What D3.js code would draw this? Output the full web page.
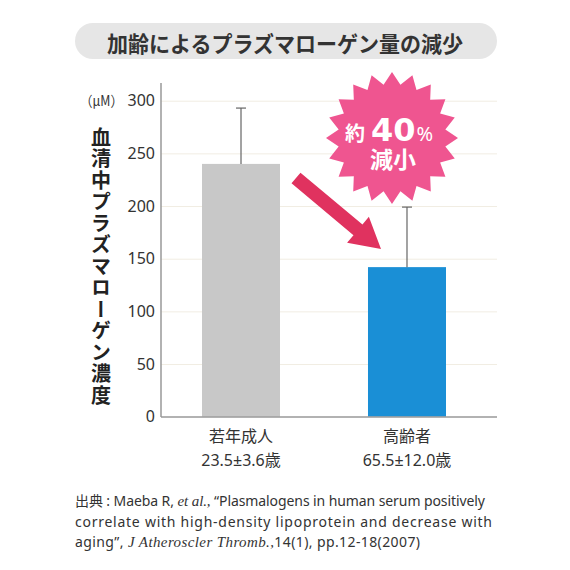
<!DOCTYPE html>
<html>
<head>
<meta charset="utf-8">
<script src="https://cdn.jsdelivr.net/npm/d3@7"></script>
<style>
  html, body { margin: 0; padding: 0; background: #fff; }
  svg { display: block; font-family: "Noto Sans", "Noto Sans CJK JP", sans-serif; }
</style>
</head>
<body>
<svg id="chart" width="570" height="570"></svg>
<script>
// data
const categories = ["若年成人", "高齢者"];
const ageLabels = ["23.5±3.6歳", "65.5±12.0歳"];
const means = [240, 142];
const errors = [53, 57];
const yTicks = [0, 50, 100, 150, 200, 250, 300];
const barColors = ["#c8c8c8", "#1a8fd6"];

const svg = d3.select("#chart");
const cjk = "'Noto Sans CJK JP', sans-serif";

// layout
const plot = { left: 161, right: 497, top: 83, bottom: 417 };

const x = d3.scaleBand()
    .domain(categories)
    .range([plot.left, 487])
    .paddingInner(0.53)
    .paddingOuter(0.247);

const y = d3.scaleLinear()
    .domain([0, 300])
    .range([416.7, 100.7]);

// title pill
svg.append("rect")
    .attr("x", 75).attr("y", 23)
    .attr("width", 422).attr("height", 36)
    .attr("rx", 18)
    .attr("fill", "#e6e6e6");

svg.append("text")
    .attr("x", 107).attr("y", 41.5)
    .attr("dominant-baseline", "central")
    .attr("font-family", cjk)
    .attr("font-size", 22)
    .attr("font-weight", "bold")
    .attr("fill", "#333")
    .attr("textLength", 356)
    .attr("lengthAdjust", "spacingAndGlyphs")
    .text("加齢によるプラズマローゲン量の減少");

// gridlines
svg.append("g")
    .attr("transform", `translate(${plot.left},0)`)
    .call(d3.axisRight(y).tickValues(yTicks.slice(1)).tickSize(plot.right - plot.left).tickFormat(""))
    .call(g => g.select(".domain").remove())
    .call(g => g.selectAll("line").attr("stroke", "#f1ede3").attr("stroke-width", 1));

// y tick labels
svg.append("g")
    .attr("transform", `translate(${plot.left - 6},0)`)
    .call(d3.axisLeft(y).tickValues(yTicks).tickSize(0).tickPadding(0))
    .call(g => g.select(".domain").remove())
    .call(g => g.selectAll("text")
        .attr("font-family", "'Noto Sans', sans-serif")
        .attr("font-size", 16)
        .attr("fill", "#333"));

// bars
svg.append("g").selectAll("rect")
    .data(categories)
    .join("rect")
    .attr("x", d => x(d))
    .attr("y", (d, i) => y(means[i]))
    .attr("width", x.bandwidth())
    .attr("height", (d, i) => y(0) - y(means[i]))
    .attr("fill", (d, i) => barColors[i]);

// error bars
const err = svg.append("g").attr("stroke", "#666").attr("stroke-width", 1.2);
categories.forEach((c, i) => {
    const cx = x(c) + x.bandwidth() / 2;
    err.append("line")
        .attr("x1", cx).attr("x2", cx)
        .attr("y1", y(means[i])).attr("y2", y(means[i] + errors[i]));
    err.append("line")
        .attr("x1", cx - 5).attr("x2", cx + 5)
        .attr("y1", y(means[i] + errors[i])).attr("y2", y(means[i] + errors[i]));
});

// axis lines
svg.append("line")
    .attr("x1", plot.left).attr("x2", plot.left)
    .attr("y1", plot.top).attr("y2", plot.bottom)
    .attr("stroke", "#999").attr("stroke-width", 1.5);
svg.append("line")
    .attr("x1", plot.left).attr("x2", plot.right)
    .attr("y1", plot.bottom).attr("y2", plot.bottom)
    .attr("stroke", "#999").attr("stroke-width", 1.5);

// category labels
const catG = svg.append("g")
    .attr("text-anchor", "middle")
    .attr("font-size", 16)
    .attr("fill", "#333");
categories.forEach((c, i) => {
    const cx = x(c) + x.bandwidth() / 2;
    catG.append("text").attr("x", cx).attr("y", 442).attr("font-family", cjk).text(c);
    catG.append("text").attr("x", cx).attr("y", 466).text(ageLabels[i]);
});

// unit label
svg.append("text")
    .attr("x", 80).attr("y", 106)
    .attr("font-family", cjk)
    .attr("font-size", 14)
    .attr("fill", "#333")
    .attr("textLength", 43)
    .attr("lengthAdjust", "spacingAndGlyphs")
    .text("（μM）");

// vertical axis title
svg.append("text")
    .attr("x", 101).attr("y", 127)
    .attr("font-family", cjk)
    .attr("font-size", 20)
    .attr("font-weight", "bold")
    .attr("fill", "#222")
    .style("writing-mode", "vertical-rl")
    .style("letter-spacing", "1.5px")
    .text("血清中プラズマローゲン濃度");

// arrow
const arrowFrom = [296, 178], arrowTo = [381, 249];
const ang = Math.atan2(arrowTo[1] - arrowFrom[1], arrowTo[0] - arrowFrom[0]);
const len = Math.hypot(arrowTo[0] - arrowFrom[0], arrowTo[1] - arrowFrom[1]);
const headLen = 30, shaftW = 7, headW = 17;
svg.append("path")
    .attr("transform", `translate(${arrowFrom}) rotate(${ang * 180 / Math.PI})`)
    .attr("d", `M0,${-shaftW}L${len - headLen},${-shaftW}L${len - headLen},${-headW}L${len},0L${len - headLen},${headW}L${len - headLen},${shaftW}L0,${shaftW}Z`)
    .attr("fill", "#e0325f");

// starburst
const starC = [392, 138], nPts = 20, rOut = 66, rIn = 54;
const starPts = d3.range(nPts * 2).map(k => [k * Math.PI / nPts, k % 2 ? rIn : rOut]);
svg.append("path")
    .attr("transform", `translate(${starC})`)
    .attr("d", d3.lineRadial().curve(d3.curveLinearClosed)(starPts))
    .attr("fill", "#ef5590");

// badge text: two lines in one text element
const star = svg.append("text")
    .attr("x", 345).attr("y", 141)
    .attr("fill", "#fff")
    .attr("font-weight", "bold");
star.append("tspan").attr("font-size", 20).attr("font-family", cjk).text("約");
star.append("tspan").attr("font-size", 32).attr("font-family", "'DejaVu Sans', sans-serif").attr("dx", 6).text("40");
star.append("tspan").attr("font-size", 20).attr("font-weight", "normal").attr("dx", 1).text("%");
star.append("tspan")
    .attr("x", 370).attr("y", 168)
    .attr("font-size", 23).attr("font-family", cjk)
    .text("減小");

// citation
const cite = svg.append("g").attr("font-size", 14).attr("fill", "#333");
const serif = "'Liberation Serif', serif";
const l1 = cite.append("text").attr("x", 75).attr("y", 506)
    .attr("textLength", 410).attr("lengthAdjust", "spacing");
l1.append("tspan").attr("font-family", cjk).text("出典");
l1.append("tspan").text(" : Maeba R, ");
l1.append("tspan").attr("font-family", serif).attr("font-style", "italic").attr("font-size", 15).text("et al.,");
l1.append("tspan").text(" “Plasmalogens in human serum positively");
cite.append("text").attr("x", 75).attr("y", 527)
    .attr("textLength", 417).attr("lengthAdjust", "spacing")
    .text("correlate with high-density lipoprotein and decrease with");
const l3 = cite.append("text").attr("x", 75).attr("y", 547)
    .attr("textLength", 345).attr("lengthAdjust", "spacing");
l3.append("tspan").text("aging”, ");
l3.append("tspan").attr("font-family", serif).attr("font-style", "italic").attr("font-size", 15).text("J Atheroscler Thromb.,");
l3.append("tspan").text("14(1), pp.12-18(2007)");
</script>
</body>
</html>
